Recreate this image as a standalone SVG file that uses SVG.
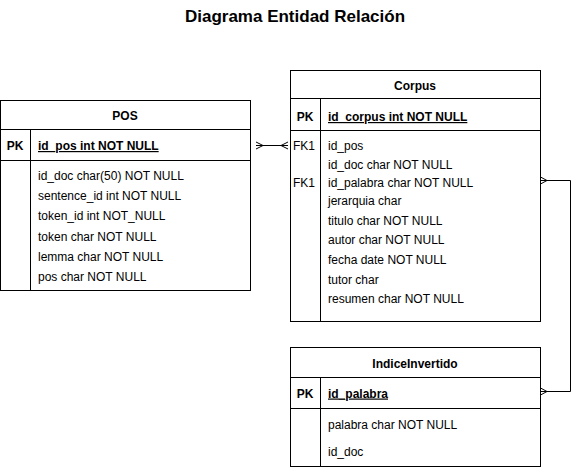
<svg xmlns="http://www.w3.org/2000/svg" width="580" height="468" viewBox="0 0 580 468">
<style>
  .box { fill: #ffffff; stroke: #000000; stroke-width: 1; }
  .ln { fill: none; stroke: #000000; stroke-width: 1; }
  .t { font-family: "Liberation Sans", Arial, Helvetica, sans-serif; font-size: 12px; fill: #000000; }
  .b { font-weight: bold; }
  .c { text-anchor: middle; }
  .u { text-decoration: underline; }
  .title { font-family: "Liberation Sans", Arial, Helvetica, sans-serif; font-size: 17px; font-weight: bold; text-anchor: middle; fill: #000000; }
</style>
<text class="title" x="295" y="22">Diagrama Entidad Relación</text>

<g id="connectors">
  <!-- POS <-> Corpus many-to-many -->
  <line class="ln" x1="256" y1="145.5" x2="288" y2="145.5"/>
  <polyline class="ln" points="256,142 263,145.5 256,149"/>
  <polyline class="ln" points="288,142 281,145.5 288,149"/>
  <!-- Corpus -> IndiceInvertido -->
  <polyline class="ln" points="540.5,180.5 570.5,180.5 570.5,391.5 540.5,391.5"/>
  <polyline class="ln" points="540.5,177 547,180.5 540.5,184"/>
  <polyline class="ln" points="540.5,388 547,391.5 540.5,395"/>
</g>

<g id="pos">
  <rect class="box" x="0.5" y="100.5" width="250" height="190"/>
  <line class="ln" x1="0.5" y1="129.5" x2="250.5" y2="129.5"/>
  <line class="ln" x1="0.5" y1="160.5" x2="250.5" y2="160.5"/>
  <line class="ln" x1="30.5" y1="129.5" x2="30.5" y2="290.5"/>
  <text class="t b c" x="125" y="120">POS</text>
  <text class="t b c" x="15" y="150">PK</text>
  <text class="t b u" x="38" y="150">id_pos int NOT NULL</text>
  <text class="t" x="38" y="180">id_doc char(50) NOT NULL</text>
  <text class="t" x="38" y="200">sentence_id int NOT NULL</text>
  <text class="t" x="38" y="220">token_id int NOT_NULL</text>
  <text class="t" x="38" y="241">token char NOT NULL</text>
  <text class="t" x="38" y="261">lemma char NOT NULL</text>
  <text class="t" x="38" y="281">pos char NOT NULL</text>
</g>

<g id="corpus">
  <rect class="box" x="290.5" y="70.5" width="250" height="251"/>
  <line class="ln" x1="290.5" y1="98.5" x2="540.5" y2="98.5"/>
  <line class="ln" x1="290.5" y1="130.5" x2="540.5" y2="130.5"/>
  <line class="ln" x1="320.5" y1="98.5" x2="320.5" y2="321.5"/>
  <text class="t b c" x="415" y="89.5">Corpus</text>
  <text class="t b c" x="305" y="121">PK</text>
  <text class="t b u" x="328" y="121">id_corpus int NOT NULL</text>
  <text class="t" x="293" y="150">FK1</text>
  <text class="t" x="293" y="187">FK1</text>
  <text class="t" x="328" y="150">id_pos</text>
  <text class="t" x="328" y="168.5">id_doc char NOT NULL</text>
  <text class="t" x="328" y="187">id_palabra char NOT NULL</text>
  <text class="t" x="328" y="205">jerarquia char</text>
  <text class="t" x="328" y="224.5">titulo char NOT NULL</text>
  <text class="t" x="328" y="244">autor char NOT NULL</text>
  <text class="t" x="328" y="264">fecha date NOT NULL</text>
  <text class="t" x="328" y="284">tutor char</text>
  <text class="t" x="328" y="303">resumen char NOT NULL</text>
</g>

<g id="indiceinvertido">
  <rect class="box" x="290.5" y="347.5" width="250" height="119"/>
  <line class="ln" x1="290.5" y1="377.5" x2="540.5" y2="377.5"/>
  <line class="ln" x1="290.5" y1="408.5" x2="540.5" y2="408.5"/>
  <line class="ln" x1="320.5" y1="377.5" x2="320.5" y2="466.5"/>
  <text class="t b c" x="415" y="368">IndiceInvertido</text>
  <text class="t b c" x="305" y="397.5">PK</text>
  <text class="t b u" x="328" y="397.5">id_palabra</text>
  <text class="t" x="328" y="429">palabra char NOT NULL</text>
  <text class="t" x="328" y="456">id_doc</text>
</g>
</svg>
